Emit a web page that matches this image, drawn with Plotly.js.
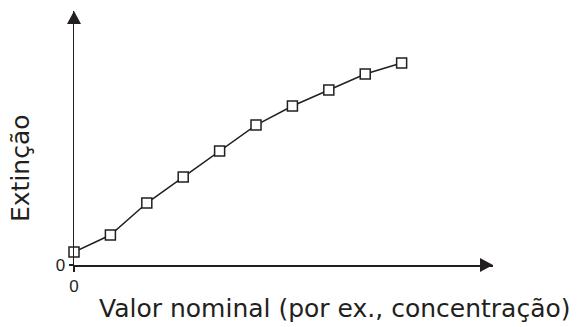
<!DOCTYPE html>
<html><head><meta charset="utf-8">
<script src="https://cdn.plot.ly/plotly-3.0.1.min.js"></script>
<style>html,body{margin:0;padding:0;background:#fff}</style>
</head><body><div id="chart" style="width:580px;height:327px"></div>
<script>
const xValues = [0, 1, 2, 3, 4, 5, 6, 7, 8, 9];
const extinction = [5.1, 11.8, 24.4, 34.6, 44.9, 55.1, 62.6, 68.9, 75.2, 79.5];
const xTickLabels = ['0'];
const yTickLabels = ['0'];
const xTitle = 'Valor nominal (por ex., concentração)';
const yTitle = 'Extinção';

const ink = '#231f20';
const W = 419, H = 254;
const trace = {
  x: xValues, y: extinction, type: 'scatter', mode: 'lines+markers',
  line: {color: ink, width: 1.5},
  marker: {symbol: 'square', size: 10, color: '#fff', line: {color: ink, width: 1.5}},
  cliponaxis: false, hoverinfo: 'skip'
};
const layout = {
  width: 580, height: 327,
  margin: {l: 74, r: 87, t: 11, b: 62},
  paper_bgcolor: '#fff', plot_bgcolor: '#fff',
  showlegend: false,
  font: {family: 'Liberation Sans, Arial, sans-serif', color: ink},
  xaxis: {range: [0, 11.51], showgrid: false, zeroline: false, showline: true, linecolor: ink, linewidth: 1.5,
    tickmode: 'array', tickvals: [0], ticktext: xTickLabels, ticks: 'outside', ticklen: 5, tickwidth: 1.5, tickcolor: ink,
    tickfont: {size: 17, color: ink}},
  yaxis: {range: [0, 100], showgrid: false, zeroline: false, showline: true, linecolor: ink, linewidth: 1.5,
    tickmode: 'array', tickvals: [0], ticktext: yTickLabels, ticks: 'outside', ticklen: 4, tickwidth: 1.5, tickcolor: ink,
    tickfont: {size: 17, color: ink}},
  shapes: [
    {type: 'path', xref: 'paper', xanchor: 0, xsizemode: 'pixel', yref: 'paper', yanchor: 1, ysizemode: 'pixel',
     path: 'M -7 -13 L 7 -13 L 0 0 Z', fillcolor: ink, line: {width: 0}},
    {type: 'path', xref: 'paper', xanchor: 1, xsizemode: 'pixel', yref: 'paper', yanchor: 0, ysizemode: 'pixel',
     path: 'M -13 -7 L -13 7 L 0 0 Z', fillcolor: ink, line: {width: 0}}
  ],
  annotations: [
    {text: xTitle, xref: 'paper', yref: 'paper', x: (335-74)/W, y: -(308-265)/H, xanchor: 'center', yanchor: 'middle',
     showarrow: false, font: {family: 'DejaVu Sans, sans-serif', size: 25, color: ink}},
    {text: yTitle, xref: 'paper', yref: 'paper', x: -(74-20)/W, y: (265-168)/H, xanchor: 'center', yanchor: 'middle', textangle: -90,
     showarrow: false, font: {family: 'DejaVu Sans, sans-serif', size: 25, color: ink}}
  ]
};
Plotly.newPlot('chart', [trace], layout, {displayModeBar: false, staticPlot: true});
</script></body></html>
